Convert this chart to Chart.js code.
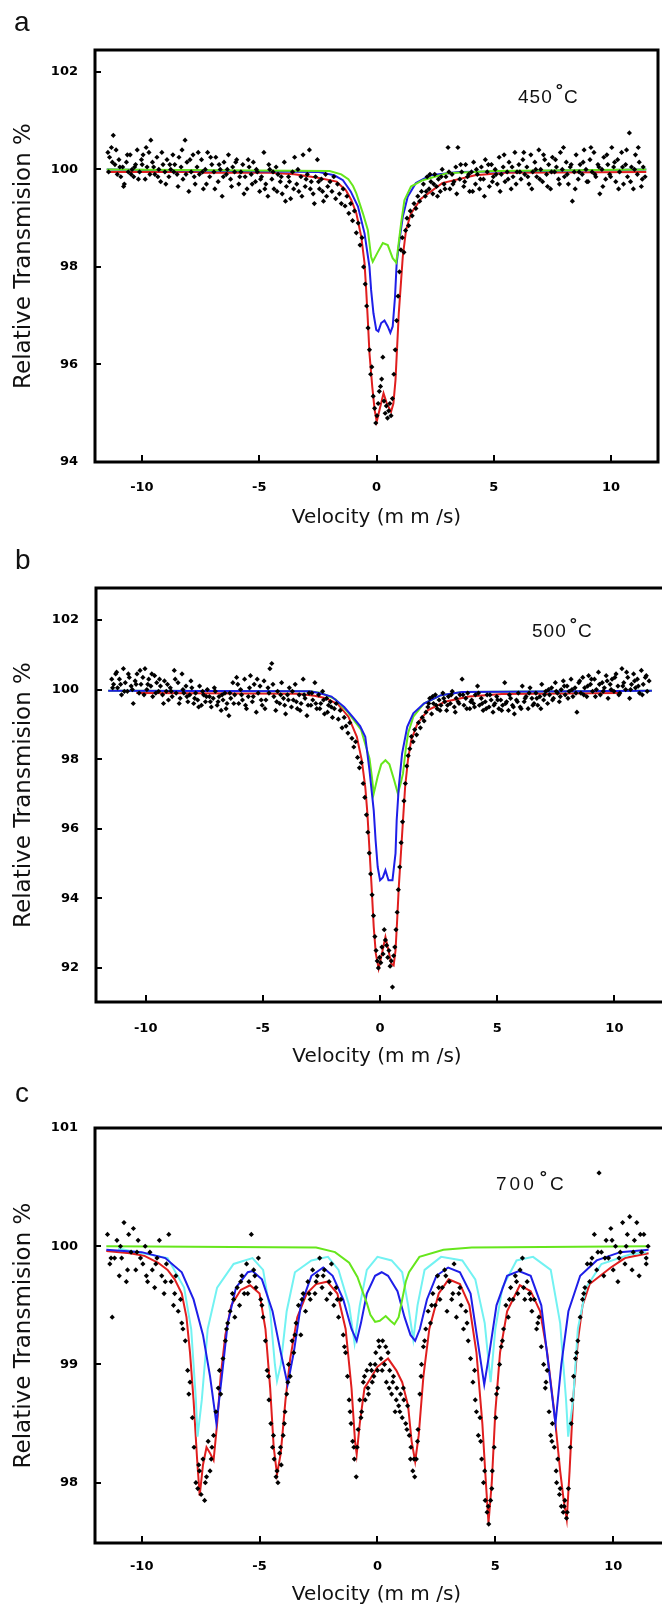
<!DOCTYPE html>
<html lang="en">
<head>
<meta charset="UTF-8">
<title>Mössbauer spectra 450 / 500 / 700 °C</title>
<script src="https://cdn.jsdelivr.net/npm/chart.js"></script>
<style>
  body { margin: 0; width: 662px; height: 1605px; background: #fff; position: relative; overflow: hidden;
         font-family: "Liberation Sans", Arial, sans-serif; color: #111; }
  canvas { position: absolute; left: 0; }
  .lbl { position: absolute; font-size: 28px; line-height: 28px; }
  .temp { position: absolute; font-size: 19px; line-height: 19px; letter-spacing: 1px; }
  .temp span { position: relative; top: -7px; font-size: 18px; font-weight: bold; margin-left: 3px; margin-right: 0; }
</style>
</head>
<body>
  <canvas id="chartA" width="662" height="540" style="top:0"></canvas>
  <canvas id="chartB" width="662" height="540" style="top:540px"></canvas>
  <canvas id="chartC" width="662" height="540" style="top:1075px"></canvas>

  <div class="lbl" style="left:14px;top:8px">a</div>
  <div class="lbl" style="left:15px;top:546px">b</div>
  <div class="lbl" style="left:15px;top:1079px">c</div>
  <div class="temp" style="left:518px;top:87px">450<span>°</span>C</div>
  <div class="temp" style="left:532px;top:621px">500<span>°</span>C</div>
  <div class="temp" style="left:496px;top:1174px;letter-spacing:3px">700<span>°</span>C</div>

<script>
// tick labels
const velTicks = [-10, -5, 0, 5, 10];
const transTicksA = [94, 96, 98, 100, 102];
const transTicksB = [92, 94, 96, 98, 100, 102];
const transTicksC = [98, 99, 100, 101];

// ---- a: 450 C ----
const scatterA = [
  [-11.45,100.35],[-11.38,100.25],[-11.3,100.45],[-11.22,100.7],[-11.15,100.1],[-11.05,99.9],[-10.98,100.2],[-10.9,99.85],[-10.82,100.05],[-10.75,99.7],
  [-10.66,100.15],[-10.58,99.95],[-10.5,100.3],[-10.42,100.0],[-10.35,99.85],[-10.27,100.1],[-10.2,100.4],[-10.1,99.95],[-10.02,100.2],[-9.95,100.3],
  [-9.86,99.8],[-9.78,100.05],[-9.7,100.35],[-9.62,100.6],[-9.55,100.15],[-9.45,99.9],[-9.36,100.25],[-9.28,100.0],[-9.2,99.75],[-9.1,100.1],
  [-9.02,99.95],[-8.93,100.2],[-8.85,99.85],[-8.77,100.0],[-8.68,100.3],[-8.6,100.1],[-8.5,99.9],[-8.42,100.25],[-8.33,100.05],[-8.25,99.8],
  [-8.16,100.6],[-8.08,100.15],[-8.0,99.55],[-7.9,99.95],[-7.82,100.3],[-7.73,99.7],[-7.65,100.05],[-7.55,99.9],[-7.46,100.2],[-7.38,99.6],
  [-7.3,100.0],[-7.2,100.35],[-7.11,99.85],[-7.02,100.1],[-6.93,99.95],[-6.85,100.25],[-6.75,99.75],[-6.66,100.0],[-6.58,99.45],[-6.5,100.15],
  [-6.4,99.9],[-6.31,100.3],[-6.22,99.8],[-6.13,100.05],[-6.05,99.95],[-5.96,100.2],[-5.87,99.7],[-5.78,99.95],[-5.7,100.1],[-5.6,99.85],
  [-5.52,99.6],[-5.43,100.05],[-5.34,99.9],[-5.25,100.15],[-5.16,99.75],[-5.08,99.95],[-4.98,99.55],[-4.9,99.85],[-4.8,100.35],[-4.72,99.7],
  [-4.63,99.45],[-4.55,100.0],[-4.46,99.8],[-4.37,99.6],[-4.28,100.05],[-4.2,99.9],[-4.1,99.75],[-4.02,99.5],[-3.93,100.15],[-3.84,99.65],
  [-3.75,99.85],[-3.66,99.4],[-3.58,99.95],[-3.49,100.25],[-3.4,99.7],[-3.31,99.55],[-3.22,99.85],[-3.13,100.3],[-3.04,99.65],[-2.95,99.9],
  [-2.86,100.4],[-2.78,99.75],[-2.7,99.5],[-2.6,99.85],[-2.52,100.2],[-2.43,99.6],[-2.35,99.8],[-2.26,99.35],[-2.17,99.9],[-2.08,99.65],
  [-1.98,99.75],[-1.9,99.55],[-1.82,99.85],[-1.74,99.4],[-1.66,99.7],[-1.58,99.5],[-1.5,99.3],[-1.42,99.6],[-1.34,99.25],[-1.26,99.45],
  [-1.18,99.1],[-1.1,99.3],[-1.02,98.95],[-0.94,99.15],[-0.86,98.7],[-0.78,98.9],[-0.7,98.45],[-0.62,98.6],[-0.55,98.0],[-0.48,97.65],
  [-0.42,97.2],[-0.36,96.75],[-0.3,96.3],[-0.25,95.8],[-0.2,95.95],[-0.14,95.35],[-0.08,95.1],[-0.03,94.8],[0.02,94.95],[0.07,95.2],
  [0.12,95.45],[0.17,95.55],[0.22,95.7],[0.27,96.15],[0.32,95.25],[0.37,95.0],[0.42,95.15],[0.47,94.9],[0.52,95.05],[0.57,95.2],
  [0.62,94.95],[0.68,95.3],[0.74,95.8],[0.8,96.3],[0.86,96.9],[0.92,97.4],[0.98,97.9],[1.04,98.35],[1.1,98.6],[1.17,98.3],
  [1.24,98.75],[1.3,99.0],[1.37,98.85],[1.44,99.15],[1.52,99.05],[1.6,99.3],[1.68,99.2],[1.76,99.45],[1.84,99.35],[1.92,99.55],
  [2.0,99.7],[2.08,99.45],[2.16,99.85],[2.24,99.6],[2.32,99.75],[2.4,99.5],[2.48,99.9],[2.56,99.65],[2.64,99.8],[2.72,99.55],
  [2.8,100.0],[2.88,99.7],[2.96,99.85],[3.05,100.45],[3.13,99.6],[3.22,99.9],[3.3,99.75],[3.38,100.05],[3.47,100.45],[3.55,99.8],
  [3.63,99.95],[3.72,99.65],[3.8,100.1],[3.88,99.85],[3.97,99.55],[4.05,99.95],[4.14,100.15],[4.22,99.7],[4.3,99.9],[4.39,99.6],
  [4.47,100.05],[4.56,99.8],[4.64,100.2],[4.72,99.95],[4.81,99.65],[4.9,100.1],[4.98,99.85],[5.06,100.0],[5.15,99.7],[5.23,100.25],
  [5.32,99.9],[5.4,100.05],[5.48,99.75],[5.57,99.95],[5.65,100.15],[5.74,99.6],[5.82,99.85],[5.9,100.35],[5.99,99.95],[6.07,100.1],
  [6.16,99.8],[6.24,100.2],[6.32,99.9],[6.41,100.05],[6.5,99.7],[6.58,100.3],[6.66,99.95],[6.75,100.15],[6.83,99.85],[6.92,100.4],
  [7.0,100.0],[7.08,99.75],[7.17,100.2],[7.25,99.9],[7.34,100.1],[7.42,99.6],[7.5,100.25],[7.59,99.95],[7.67,100.05],[7.76,99.8],
  [7.84,100.35],[7.92,100.0],[8.01,99.85],[8.09,100.15],[8.18,99.7],[8.26,100.05],[8.35,99.35],[8.43,99.95],[8.51,100.3],[8.6,99.8],
  [8.68,100.1],[8.77,99.9],[8.85,100.4],[8.93,100.0],[9.02,99.75],[9.1,100.2],[9.19,99.95],[9.27,100.35],[9.35,99.85],[9.44,100.1],
  [9.52,99.5],[9.61,100.0],[9.69,100.25],[9.77,99.8],[9.86,100.1],[9.94,99.9],[10.03,100.45],[10.11,100.05],[10.2,99.75],[10.28,100.2],
  [10.36,99.95],[10.45,100.35],[10.53,99.7],[10.62,100.1],[10.7,99.85],[10.78,100.75],[10.87,100.05],[10.95,99.6],[11.04,100.3],[11.12,99.9],
  [11.2,100.15],[11.29,99.65],[11.37,100.05],[11.45,99.85],
  [-11.42,99.95],[-11.26,100.15],[-11.1,100.4],[-10.94,100.05],[-10.78,99.65],[-10.62,100.3],[-10.46,99.9],[-10.31,100.05],[-10.15,99.8],[-9.99,100.1],
  [-9.82,100.45],[-9.66,99.9],[-9.5,100.05],[-9.32,99.85],[-9.15,100.35],[-8.98,99.7],[-8.81,100.1],[-8.64,99.95],[-8.46,99.65],[-8.29,100.4],
  [-8.12,99.9],[-7.95,100.2],[-7.77,99.85],[-7.6,100.35],[-7.42,99.95],[-7.25,99.7],[-7.07,100.25],[-6.89,99.6],[-6.71,100.1],[-6.53,99.85],
  [-6.36,100.0],[-6.18,99.65],[-6.0,100.15],[-5.83,99.85],[-5.65,99.5],[-5.47,100.2],[-5.3,99.7],[-5.12,100.0],[-4.94,99.8],[-4.76,99.6],
  [-4.59,100.1],[-4.41,99.95],[-4.24,99.55],[-4.06,99.85],[-3.88,99.35],[-3.71,99.75],[-3.53,99.6],[-3.35,100.0],[-3.18,99.45],[-3.0,99.8],
  [-2.82,99.6],[-2.65,99.3],[-2.47,99.75],[-2.3,99.55],[-2.13,99.45],
  [2.12,99.55],[2.28,99.9],[2.44,99.7],[2.6,99.45],[2.76,99.85],[2.92,99.6],[3.09,99.95],[3.26,99.7],[3.42,99.5],[3.59,100.1],
  [3.76,99.75],[3.93,99.9],[4.1,99.55],[4.26,100.0],[4.43,99.8],[4.6,99.45],[4.77,100.1],[4.94,99.75],[5.1,99.9],[5.27,99.55],
  [5.44,100.3],[5.61,99.8],[5.78,100.05],[5.95,99.7],[6.11,99.95],[6.28,100.35],[6.45,99.85],[6.62,99.6],[6.79,100.0],[6.96,99.8],
  [7.12,100.3],[7.29,99.65],[7.46,99.95],[7.63,100.2],[7.8,99.7],[7.97,100.45],[8.13,99.9],[8.3,100.1],[8.47,99.6],[8.64,99.95],
  [8.81,100.15],[8.97,99.75],[9.14,100.45],[9.31,99.9],[9.48,100.05],[9.65,99.65],[9.82,100.3],[9.98,99.85],[10.15,100.15],[10.32,99.6],
  [10.49,100.05],[10.66,100.4],[10.83,99.75],[11.0,100.0],[11.16,100.45],[11.33,99.8]
];
const redA = [
  [-11.5,99.95],[-7.5,99.95],[-7.4,99.93],[-4.5,99.93],[-3.5,99.9],[-2.5,99.83],[-1.7,99.75],[-1.3,99.57],[-1.07,99.37],[-0.86,99.1],
  [-0.65,98.62],[-0.51,98.08],[-0.44,97.53],[-0.37,96.91],[-0.3,96.23],[-0.18,95.54],[-0.08,95.07],[0.01,94.83],[0.13,95.07],[0.3,95.41],
  [0.44,95.2],[0.62,95.03],[0.72,95.2],[0.81,95.68],[0.88,96.37],[0.95,97.05],[1.05,97.73],[1.12,98.21],[1.26,98.76],[1.47,99.1],
  [1.9,99.4],[2.8,99.72],[4.2,99.88],[5.5,99.93],[11.5,99.95]
];
const blueA = [
  [-11.5,100],[-2.5,99.95],[-1.8,99.88],[-1.43,99.78],[-1.1,99.55],[-0.79,99.24],[-0.51,98.69],[-0.3,98.0],[-0.23,97.53],[-0.13,97.05],
  [-0.01,96.71],[0.08,96.68],[0.2,96.85],[0.34,96.9],[0.48,96.78],[0.59,96.65],[0.69,96.78],[0.79,97.39],[0.86,98.08],[0.98,98.55],
  [1.12,99.03],[1.33,99.44],[1.68,99.72],[2.3,99.88],[3.5,99.95],[11.5,100]
];
const greenA = [
  [-11.5,100],[-2.0,99.97],[-1.5,99.9],[-1.2,99.8],[-1.0,99.66],[-0.86,99.51],[-0.58,99.1],[-0.37,98.76],[-0.23,98.21],[-0.16,98.11],
  [0.06,98.31],[0.27,98.49],[0.48,98.45],[0.69,98.18],[0.84,98.09],[0.9,98.31],[1.05,98.9],[1.19,99.37],[1.47,99.65],[1.97,99.78],
  [3.0,99.92],[5.0,99.97],[11.5,100]
];

// ---- b: 500 C ----
const scatterB = [
  [-11.45,100.3],[-11.37,100.15],[-11.28,100.45],[-11.2,100.05],[-11.12,100.3],[-11.03,99.85],[-10.95,100.6],[-10.87,100.2],[-10.78,99.95],[-10.7,100.35],
  [-10.62,100.1],[-10.53,99.6],[-10.45,100.25],[-10.37,100.45],[-10.28,99.9],[-10.2,100.15],[-10.12,100.35],[-10.03,100.6],[-9.95,100.0],[-9.87,100.3],
  [-9.78,100.1],[-9.7,99.8],[-9.62,100.4],[-9.53,100.2],[-9.45,99.95],[-9.37,100.1],[-9.28,99.85],[-9.2,100.25],[-9.12,99.95],[-9.03,99.7],
  [-8.95,100.05],[-8.87,99.8],[-8.78,100.55],[-8.7,99.9],[-8.62,100.2],[-8.53,99.75],[-8.45,100.45],[-8.37,99.9],[-8.28,100.1],[-8.2,99.65],
  [-8.12,99.85],[-8.03,100.05],[-7.95,99.6],[-7.87,99.9],[-7.78,99.7],[-7.7,100.1],[-7.62,99.55],[-7.53,99.85],[-7.45,99.65],[-7.37,100.0],
  [-7.28,99.8],[-7.2,99.5],[-7.12,99.75],[-7.03,99.95],[-6.95,99.55],[-6.87,99.8],[-6.78,99.4],[-6.7,99.7],[-6.62,99.9],[-6.53,99.6],
  [-6.45,99.25],[-6.37,99.75],[-6.28,100.2],[-6.2,99.85],[-6.12,100.35],[-6.03,99.6],[-5.95,100.0],[-5.87,99.7],[-5.78,100.3],[-5.7,99.45],
  [-5.62,99.8],[-5.53,100.4],[-5.45,99.65],[-5.37,100.15],[-5.28,99.35],[-5.2,99.9],[-5.12,100.1],[-5.03,99.55],[-4.95,100.25],[-4.87,99.7],
  [-4.78,100.05],[-4.7,100.6],[-4.62,100.75],[-4.53,99.8],[-4.45,99.4],[-4.37,99.95],[-4.28,99.6],[-4.2,100.2],[-4.12,99.75],[-4.03,99.3],
  [-3.95,99.85],[-3.87,100.05],[-3.78,99.5],[-3.7,99.7],[-3.62,100.15],[-3.53,99.45],[-3.45,99.85],[-3.37,99.6],[-3.28,100.3],[-3.2,99.75],
  [-3.12,99.25],[-3.03,99.9],[-2.95,99.55],[-2.87,99.7],[-2.78,100.2],[-2.7,99.45],[-2.62,99.85],[-2.53,99.6],[-2.45,99.95],[-2.37,99.3],
  [-2.28,99.75],[-2.2,99.55],[-2.12,99.65],[-2.03,99.2],
  [-1.95,99.45],[-1.87,99.6],[-1.78,99.15],[-1.7,99.4],[-1.62,98.9],[-1.53,99.2],[-1.45,98.95],[-1.37,98.75],[-1.29,99.05],[-1.2,98.6],
  [-1.12,98.35],[-1.04,98.5],[-0.96,98.05],[-0.88,97.75],[-0.8,97.9],[-0.72,97.3],[-0.65,96.9],[-0.58,96.4],[-0.52,95.9],[-0.46,95.3],
  [-0.4,94.7],[-0.34,94.1],[-0.28,93.5],[-0.22,92.9],[-0.17,92.5],[-0.12,92.2],[-0.07,92.0],[-0.02,92.3],[0.03,92.15],[0.08,92.6],
  [0.13,92.4],[0.18,93.1],[0.23,92.8],[0.28,92.65],[0.33,92.3],[0.38,92.5],[0.43,92.05],[0.48,92.2],[0.53,91.45],[0.58,92.35],
  [0.63,92.6],[0.68,93.1],[0.73,93.6],[0.78,94.25],[0.84,94.9],[0.9,95.6],[0.96,96.2],[1.02,96.8],[1.08,97.3],[1.14,97.8],
  [1.2,98.1],[1.27,98.3],[1.34,98.65],[1.41,98.5],[1.48,98.85],[1.56,98.7],[1.64,99.05],[1.72,98.9],[1.8,99.2],[1.88,99.1],[1.96,99.35],
  [2.04,99.5],[2.12,99.75],[2.2,99.3],[2.28,99.6],[2.36,99.85],[2.44,99.45],[2.52,99.7],[2.6,99.55],[2.68,99.9],[2.76,99.65],
  [2.84,99.4],[2.92,99.8],[3.0,99.6],[3.08,99.95],[3.17,99.5],[3.25,99.75],[3.33,99.65],[3.41,99.85],[3.5,100.3],[3.58,99.55],
  [3.66,99.75],[3.74,99.9],[3.83,99.45],[3.91,99.7],[3.99,99.6],[4.07,99.85],[4.16,100.1],[4.24,99.55],[4.32,99.75],[4.4,99.4],
  [4.49,99.65],[4.57,99.85],[4.65,99.5],[4.74,99.7],[4.82,99.35],[4.9,99.6],[4.98,99.8],[5.07,99.45],[5.15,99.7],[5.23,99.55],
  [5.32,100.2],[5.4,99.65],[5.48,99.4],[5.57,99.75],[5.65,99.55],[5.73,99.3],[5.82,99.7],[5.9,99.9],[5.98,99.5],[6.07,100.1],
  [6.15,99.65],[6.23,99.8],[6.32,99.45],[6.4,100.05],[6.48,99.75],[6.57,99.6],[6.65,99.9],[6.73,99.55],[6.82,99.8],[6.9,100.15],
  [6.98,99.7],[7.07,99.95],[7.15,99.6],[7.23,99.85],[7.32,100.05],[7.4,99.75],[7.48,100.2],[7.57,99.9],[7.65,99.65],[7.73,100.0],
  [7.82,100.25],[7.9,99.85],[7.98,100.1],[8.07,99.95],[8.15,100.3],[8.23,99.8],[8.32,100.05],[8.4,99.35],[8.48,100.2],[8.57,99.9],
  [8.65,100.35],[8.73,100.05],[8.82,99.8],[8.9,100.4],[8.98,100.15],[9.07,99.95],[9.15,100.3],[9.23,100.0],[9.32,100.5],[9.4,99.85],
  [9.48,100.2],[9.57,100.05],[9.65,100.4],[9.73,99.75],[9.82,100.15],[9.9,100.3],[9.98,99.95],[10.07,100.45],[10.15,100.1],[10.23,99.9],
  [10.32,100.6],[10.4,100.2],[10.48,100.0],[10.57,100.35],[10.65,99.75],[10.73,100.15],[10.82,100.45],[10.9,100.05],[10.98,100.3],[11.07,99.9],
  [11.15,100.55],[11.23,100.15],[11.32,100.35],[11.4,99.95],[11.48,100.25],
  [-11.41,100.05],[-11.24,100.5],[-11.07,100.15],[-10.91,99.95],[-10.74,100.45],[-10.57,100.0],[-10.41,100.15],[-10.24,100.55],[-10.07,99.85],[-9.91,100.15],
  [-9.74,100.45],[-9.57,99.9],[-9.41,100.3],[-9.24,99.6],[-9.07,100.15],[-8.91,99.95],[-8.74,100.3],[-8.57,99.6],[-8.41,100.0],[-8.24,99.8],
  [-8.07,100.25],[-7.91,99.75],[-7.74,99.5],[-7.57,99.95],[-7.41,99.8],[-7.24,99.65],[-7.07,100.05],[-6.91,99.65],[-6.74,99.85],[-6.57,99.45],
  [-6.41,99.9],[-6.24,99.6],[-6.07,100.15],[-5.91,99.85],[-5.74,99.55],[-5.57,100.05],[-5.41,99.8],[-5.24,100.3],[-5.07,99.7],[-4.91,99.45],
  [-4.74,99.9],[-4.57,100.15],[-4.41,99.65],[-4.24,99.85],[-4.07,99.55],[-3.91,99.7],[-3.74,99.95],[-3.57,99.65],[-3.41,99.4],[-3.24,99.85],
  [-3.07,99.55],[-2.91,99.9],[-2.74,99.6],[-2.57,99.45],[-2.41,99.7],[-2.24,99.35],[-2.08,99.5],
  [2.08,99.6],[2.24,99.8],[2.4,99.55],[2.56,99.4],[2.72,99.75],[2.88,99.55],[3.04,99.85],[3.21,99.35],[3.37,99.6],[3.54,99.85],
  [3.7,99.45],[3.87,99.65],[4.03,99.5],[4.2,99.9],[4.36,99.6],[4.53,99.45],[4.69,99.85],[4.86,99.55],[5.02,99.7],[5.19,99.4],
  [5.36,99.6],[5.52,99.85],[5.69,99.5],[5.86,99.65],[6.02,99.45],[6.19,99.75],[6.36,99.9],[6.52,99.55],[6.69,99.75],[6.86,99.45],
  [7.02,99.85],[7.19,100.0],[7.36,99.7],[7.52,99.95],[7.69,99.8],[7.86,100.1],[8.02,99.75],[8.19,100.0],[8.36,99.9],[8.52,100.25],
  [8.69,99.85],[8.86,100.1],[9.02,100.3],[9.19,99.8],[9.36,100.15],[9.52,99.95],[9.69,100.25],[9.86,100.0],[10.02,100.35],[10.19,99.85],
  [10.36,100.1],[10.52,100.5],[10.69,100.0],[10.86,100.25],[11.02,100.1],[11.19,99.85],[11.36,100.4]
];
const redB = [
  [-10.4,99.9],[-3.5,99.88],[-2.8,99.82],[-2.3,99.75],[-1.8,99.58],[-1.35,99.22],[-0.99,98.64],[-0.78,97.97],[-0.63,97.2],[-0.54,96.44],
  [-0.45,95.38],[-0.36,94.33],[-0.27,93.18],[-0.18,92.41],[-0.06,91.98],[0.08,92.41],[0.23,92.89],[0.36,92.5],[0.48,92.12],[0.58,92.07],
  [0.66,92.5],[0.73,93.37],[0.8,94.33],[0.89,95.29],[0.98,96.25],[1.07,97.2],[1.19,97.97],[1.33,98.55],[1.6,99.03],[2.05,99.41],
  [2.77,99.65],[3.8,99.8],[5.2,99.87],[10.3,99.9]
];
const blueB = [
  [-11.6,99.97],[-3.0,99.95],[-2.6,99.9],[-2.07,99.8],[-1.53,99.5],[-1.15,99.2],[-0.85,98.95],[-0.63,98.64],[-0.45,97.68],[-0.27,96.53],
  [-0.19,95.67],[-0.1,94.9],[0.0,94.52],[0.12,94.6],[0.23,94.81],[0.36,94.52],[0.53,94.52],[0.66,95.29],[0.71,96.25],[0.8,97.2],
  [0.94,98.16],[1.16,98.93],[1.42,99.32],[1.87,99.6],[2.6,99.84],[3.5,99.93],[11.6,99.97]
];
const greenB = [
  [-11.6,99.97],[-3.0,99.95],[-2.5,99.9],[-1.9,99.72],[-1.36,99.34],[-0.81,98.85],[-0.45,98.02],[-0.35,97.5],[-0.27,97.01],[-0.1,97.5],
  [0.05,97.85],[0.23,97.97],[0.4,97.85],[0.6,97.4],[0.76,97.01],[0.88,97.3],[0.98,97.59],[1.1,98.3],[1.2,98.75],[1.42,99.22],
  [1.87,99.6],[2.6,99.84],[3.5,99.93],[11.6,99.97]
];

// ---- c: 700 C ----
const scatterC = [
  [-11.45,100.1],[-11.35,99.85],[-11.25,99.4],[-11.15,99.9],[-11.05,100.05],[-10.95,99.75],[-10.85,99.9],[-10.75,100.2],[-10.65,99.7],[-10.55,100.1],
  [-10.45,99.95],[-10.35,100.15],[-10.25,99.8],[-10.15,100.05],[-10.05,99.9],[-9.95,99.85],[-9.85,100.0],[-9.75,99.7],[-9.65,99.95],[-9.55,99.8],
  [-9.45,99.65],[-9.35,99.9],[-9.25,100.05],[-9.15,99.75],[-9.05,99.6],[-8.95,99.85],[-8.85,100.1],[-8.75,99.7],[-8.65,99.5],[-8.55,99.75],
  [-8.45,99.45],[-8.35,99.55],[-8.25,99.3],[-8.15,99.2],[-8.05,98.95],[-7.95,98.85],[-7.85,98.55],[-7.78,98.3],[-7.7,98.0],[-7.62,97.95],
  [-7.55,98.1],[-7.48,97.9],[-7.4,98.2],[-7.33,97.85],[-7.25,98.05],[-7.18,98.35],[-7.1,98.1],[-7.02,98.3],[-6.95,98.4],[-6.85,98.6],
  [-6.75,98.8],[-6.65,98.75],[-6.55,99.05],[-6.45,99.2],[-6.35,99.35],[-6.25,99.45],[-6.15,99.6],[-6.05,99.4],[-5.95,99.65],[-5.85,99.5],
  [-5.75,99.75],[-5.65,99.6],[-5.55,99.85],[-5.45,99.7],[-5.35,100.1],[-5.25,99.8],[-5.15,99.65],[-5.05,99.9],[-4.95,99.55],[-4.85,99.4],
  [-4.75,99.2],[-4.68,98.95],[-4.6,98.7],[-4.52,98.5],[-4.45,98.3],[-4.38,98.2],[-4.3,98.05],[-4.22,98.0],[-4.15,98.25],[-4.08,98.15],
  [-4.0,98.4],[-3.92,98.6],[-3.85,98.75],[-3.77,99.0],[-3.7,98.9],[-3.62,99.2],[-3.55,99.1],[-3.45,99.35],[-3.35,99.5],[-3.25,99.25],
  [-3.15,99.6],[-3.05,99.45],[-2.95,99.7],[-2.85,99.55],[-2.75,99.8],[-2.65,99.6],[-2.55,99.75],[-2.45,99.9],[-2.35,99.65],[-2.25,99.8],
  [-2.15,99.55],[-2.05,99.7],[-1.95,99.85],[-1.85,99.5],[-1.75,99.65],[-1.65,99.4],[-1.55,99.55],[-1.45,99.25],[-1.35,99.1],[-1.27,98.9],
  [-1.2,98.7],[-1.12,98.5],[-1.05,98.35],[-0.98,98.2],[-0.9,98.05],[-0.82,98.45],[-0.75,98.7],[-0.67,98.6],[-0.6,98.85],[-0.52,98.7],
  [-0.45,98.95],[-0.38,98.75],[-0.3,99.0],[-0.22,98.85],[-0.15,98.9],[-0.07,99.1],[0.0,98.95],[0.08,99.15],[0.15,99.05],[0.22,99.2],
  [0.3,99.0],[0.38,98.85],[0.45,99.1],[0.52,98.95],[0.6,98.75],[0.68,98.9],[0.75,98.6],[0.82,98.8],[0.9,98.65],[0.98,98.75],
  [1.05,98.55],[1.12,98.7],[1.2,98.5],[1.28,98.65],[1.35,98.4],[1.42,98.3],[1.5,98.1],[1.58,98.05],[1.65,98.2],[1.72,98.45],
  [1.8,98.75],[1.87,99.0],[1.95,99.15],[2.05,99.3],[2.15,99.45],[2.25,99.35],[2.35,99.6],[2.45,99.5],[2.55,99.75],[2.65,99.55],
  [2.75,99.65],[2.85,99.8],[2.95,99.45],[3.05,99.7],[3.15,99.55],[3.25,99.85],[3.35,99.4],[3.45,99.6],[3.55,99.5],[3.65,99.3],
  [3.75,99.45],[3.85,99.2],[3.95,99.05],[4.05,98.85],[4.12,98.95],[4.2,98.6],[4.28,98.4],[4.35,98.55],[4.42,98.2],[4.5,98.0],
  [4.57,97.85],[4.65,97.75],[4.72,97.65],[4.8,97.85],[4.87,98.1],[4.95,98.3],[5.02,98.55],[5.1,98.8],[5.18,99.0],[5.25,99.15],
  [5.35,99.3],[5.45,99.5],[5.55,99.4],[5.65,99.65],[5.75,99.55],[5.85,99.75],[5.95,99.6],[6.05,99.8],[6.15,99.9],[6.25,99.55],
  [6.35,99.7],[6.45,99.6],[6.55,99.45],[6.65,99.55],[6.75,99.3],[6.85,99.4],[6.95,99.15],[7.05,99.0],[7.12,98.8],[7.2,98.95],
  [7.28,98.6],[7.35,98.4],[7.42,98.5],[7.5,98.3],[7.58,98.1],[7.65,98.2],[7.72,97.9],[7.8,97.8],[7.88,97.75],[7.95,97.85],
  [8.02,97.7],[8.1,97.95],[8.18,98.3],[8.25,98.7],[8.32,98.9],[8.4,99.05],[8.5,99.2],[8.6,99.4],[8.7,99.55],[8.8,99.65],
  [8.9,99.85],[9.0,99.7],[9.1,99.9],[9.2,100.1],[9.3,99.8],[9.4,100.62],[9.5,99.95],[9.6,99.75],[9.7,100.05],[9.8,99.9],
  [9.9,100.15],[10.0,99.8],[10.1,100.0],[10.2,99.7],[10.3,99.95],[10.4,100.2],[10.5,99.85],[10.6,100.1],[10.7,100.25],[10.8,99.8],
  [10.9,100.05],[11.0,100.2],[11.1,99.75],[11.2,99.95],[11.3,100.1],[11.4,99.85],[11.48,100.0],
  [-11.3,99.9],[-10.9,100.0],[-10.6,99.8],[-10.2,99.95],[-9.8,99.75],[-9.4,99.85],[-9.0,99.7],[-8.6,99.6],[-8.3,99.35],[-8.0,98.75],
  [-7.58,98.15],[-7.3,98.0],[-7.05,98.2],[-6.7,98.95],[-6.4,99.3],[-6.1,99.55],[-5.8,99.7],[-5.5,99.6],[-5.2,99.75],[-4.9,99.5],
  [-4.62,98.9],[-4.41,98.4],[-4.26,98.1],[-4.11,98.3],[-3.95,98.5],[-3.8,98.85],[-3.5,99.25],[-3.2,99.55],[-2.9,99.6],[-2.6,99.7],
  [-2.3,99.75],[-2.0,99.6],[-1.7,99.55],[-1.4,99.15],[-1.16,98.6],[-1.0,98.3],[-0.86,98.3],[-0.7,98.55],[-0.55,98.9],[-0.4,98.8],
  [-0.25,98.95],[-0.1,99.0],[0.05,99.2],[0.2,98.95],[0.35,99.15],[0.5,98.8],[0.65,98.85],[0.8,98.7],[0.95,98.6],[1.1,98.8],
  [1.25,98.45],[1.4,98.2],[1.55,98.2],[1.7,98.35],[1.85,98.9],[2.0,99.2],[2.3,99.5],[2.6,99.65],[2.9,99.75],[3.2,99.6],
  [3.5,99.65],[3.8,99.35],[4.15,98.7],[4.38,98.35],[4.55,98.1],[4.7,97.8],[4.85,97.95],[5.05,98.75],[5.3,99.2],[5.6,99.55],
  [5.9,99.7],[6.2,99.65],[6.5,99.55],[6.8,99.35],[7.15,98.85],[7.4,98.35],[7.6,98.0],[7.75,97.95],[7.92,97.8],[8.05,97.75],
  [8.22,98.5],[8.45,99.1],[8.75,99.6],[9.05,99.85],[9.35,99.95],[9.65,99.9],[9.95,100.05],[10.25,99.9],[10.55,100.0],[10.85,99.95],
  [11.15,100.1],[11.4,99.9]
];
const redC = [
  [-11.5,99.96],[-10.5,99.94],[-9.9,99.92],[-9.3,99.86],[-8.9,99.8],[-8.6,99.72],[-8.3,99.6],[-8.1,99.4],[-7.95,99.1],[-7.8,98.7],
  [-7.65,98.2],[-7.54,97.89],[-7.4,98.15],[-7.25,98.3],[-7.1,98.25],[-6.95,98.19],[-6.8,98.5],[-6.65,98.9],[-6.45,99.25],[-6.2,99.5],
  [-5.8,99.63],[-5.4,99.67],[-5.0,99.6],[-4.75,99.3],[-4.55,98.8],[-4.4,98.3],[-4.26,98.07],[-4.1,98.25],[-3.9,98.7],[-3.7,99.05],
  [-3.4,99.4],[-3.0,99.6],[-2.6,99.68],[-2.13,99.7],[-1.7,99.6],[-1.35,99.3],[-1.1,98.8],[-0.95,98.35],[-0.88,98.24],[-0.75,98.5],
  [-0.55,98.8],[-0.3,98.88],[0.0,98.98],[0.45,99.05],[0.8,98.95],[1.05,98.85],[1.3,98.65],[1.45,98.35],[1.6,98.18],[1.75,98.4],
  [1.95,98.9],[2.2,99.3],[2.6,99.6],[3.02,99.72],[3.5,99.68],[3.9,99.5],[4.2,99.1],[4.45,98.5],[4.6,98.0],[4.71,97.66],
  [4.85,98.0],[5.0,98.6],[5.2,99.1],[5.5,99.45],[6.04,99.67],[6.5,99.62],[6.9,99.45],[7.2,99.1],[7.5,98.6],[7.75,98.1],
  [7.9,97.85],[8.03,97.69],[8.15,98.1],[8.3,98.7],[8.5,99.2],[8.7,99.5],[9.0,99.68],[9.9,99.82],[10.5,99.9],[11.5,99.94]
];
const blueC = [
  [-11.5,99.97],[-10.0,99.95],[-9.0,99.9],[-8.3,99.78],[-7.8,99.55],[-7.4,99.25],[-7.1,98.9],[-6.83,98.5],[-6.6,98.9],[-6.35,99.35],
  [-6.0,99.65],[-5.5,99.78],[-5.3,99.79],[-4.9,99.72],[-4.45,99.45],[-4.1,99.1],[-3.81,98.83],[-3.55,99.1],[-3.25,99.5],[-2.8,99.75],
  [-2.3,99.82],[-1.9,99.75],[-1.45,99.55],[-1.1,99.3],[-0.88,99.2],[-0.7,99.35],[-0.45,99.6],[-0.1,99.75],[0.18,99.78],[0.45,99.75],
  [0.85,99.62],[1.15,99.4],[1.4,99.25],[1.6,99.2],[1.8,99.3],[2.1,99.55],[2.5,99.75],[3.0,99.82],[3.5,99.78],[3.95,99.6],
  [4.25,99.2],[4.53,98.83],[4.75,99.1],[5.05,99.5],[5.5,99.75],[6.0,99.79],[6.5,99.75],[6.95,99.5],[7.25,99.0],[7.55,98.5],
  [7.8,99.0],[8.1,99.45],[8.6,99.75],[9.3,99.88],[10.3,99.95],[11.5,99.97]
];
const cyanC = [
  [-11.0,99.98],[-8.9,99.9],[-8.2,99.65],[-7.9,99.3],[-7.7,98.7],[-7.63,98.39],[-7.45,98.7],[-7.2,99.3],[-6.8,99.65],[-6.1,99.85],
  [-5.3,99.9],[-4.85,99.8],[-4.55,99.45],[-4.35,99.0],[-4.26,98.86],[-4.1,99.0],[-3.85,99.45],[-3.5,99.78],[-2.8,99.88],[-2.1,99.91],
  [-1.65,99.8],[-1.2,99.5],[-0.97,99.18],[-0.75,99.5],[-0.45,99.8],[0.0,99.91],[0.6,99.88],[1.05,99.78],[1.3,99.5],[1.52,99.21],
  [1.7,99.5],[2.0,99.8],[2.7,99.91],[3.6,99.88],[4.15,99.72],[4.55,99.35],[4.8,98.85],[5.0,99.3],[5.3,99.65],[5.9,99.88],
  [6.6,99.91],[7.35,99.8],[7.75,99.35],[8.0,98.7],[8.09,98.39],[8.3,98.7],[8.5,99.3],[8.85,99.65],[9.5,99.85],[10.7,99.93],[11.4,99.95]
];
const greenC = [
  [-11.5,100],[-2.6,99.99],[-1.8,99.95],[-1.2,99.86],[-0.85,99.74],[-0.6,99.6],[-0.45,99.52],[-0.3,99.42],[-0.1,99.36],[0.1,99.37],
  [0.35,99.41],[0.55,99.37],[0.72,99.34],[0.9,99.4],[1.05,99.55],[1.2,99.7],[1.34,99.78],[1.78,99.91],[2.8,99.97],[4.0,99.99],[11.5,100]
];

const RED = '#e01e1e', BLUE = '#1e1ee8', GREEN = '#66e61c', CYAN = '#72f2f2';

// box round the plot + short inward tick marks
const framePlugin = {
  id: 'frame',
  afterDatasetsDraw(chart, args, opts) {
    const { ctx, chartArea: a, scales: { x, y } } = chart;
    ctx.save();
    ctx.strokeStyle = '#000';
    ctx.lineWidth = 2;
    ctx.beginPath();
    x.ticks.forEach(t => {
      const px = Math.round(x.getPixelForValue(t.value));
      ctx.moveTo(px, a.bottom); ctx.lineTo(px, a.bottom - 7);
    });
    y.ticks.forEach(t => {
      const py = Math.round(y.getPixelForValue(t.value));
      ctx.moveTo(a.left, py); ctx.lineTo(a.left + 6, py);
    });
    ctx.stroke();
    ctx.lineWidth = 3;
    ctx.beginPath();
    if (opts.closed) {
      ctx.rect(a.left, a.top, a.right - a.left, a.bottom - a.top);
    } else {
      ctx.moveTo(chart.width + 2, a.top);
      ctx.lineTo(a.left, a.top);
      ctx.lineTo(a.left, a.bottom);
      ctx.lineTo(chart.width + 2, a.bottom);
    }
    ctx.stroke();
    ctx.restore();
  }
};

function fitLine(data, color, order) {
  return { data, showLine: true, borderColor: color, borderWidth: 2, pointRadius: 0, tension: 0, order };
}
function points(data) {
  return { data, showLine: false, pointStyle: 'rectRot', pointRadius: 2.6, backgroundColor: '#000',
           borderWidth: 0, order: 0 };
}

function makePanel(id, p) {
  const tickFont = { family: 'DejaVu Sans', size: 13, weight: 'bold' };
  return new Chart(document.getElementById(id), {
    type: 'scatter',
    data: { datasets: p.datasets },
    options: {
      responsive: false,
      animation: false,
      layout: { padding: { top: p.top, right: p.right, left: 0, bottom: 0 } },
      plugins: { legend: { display: false }, tooltip: { enabled: false }, frame: { closed: p.closed } },
      scales: {
        x: {
          type: 'linear', min: p.xMin, max: p.xMax,
          afterBuildTicks: s => { s.ticks = velTicks.map(v => ({ value: v })); },
          afterFit: s => { s.height = p.xHeight; },
          grid: { display: false, drawTicks: false },
          border: { display: false },
          ticks: { color: '#000', font: tickFont, padding: p.xPad },
          title: { display: true, text: 'Velocity (m m /s)', color: '#111',
                   font: { family: 'DejaVu Sans', size: 20 }, padding: { top: 0, bottom: p.titlePad } }
        },
        y: {
          type: 'linear', min: p.yMin, max: p.yMax,
          afterBuildTicks: s => { s.ticks = p.yTicks.map(v => ({ value: v })); },
          afterFit: s => { s.width = p.left; },
          grid: { display: false, drawTicks: false },
          border: { display: false },
          ticks: { color: '#000', font: tickFont, padding: 17 },
          title: { display: true, text: 'Relative Transmision %', color: '#111',
                   font: { family: 'DejaVu Sans', size: 23 }, padding: { top: 10, bottom: 0 } }
        }
      }
    },
    plugins: [framePlugin]
  });
}

makePanel('chartA', {
  top: 50, right: 2, left: 95, xHeight: 78, xPad: 18, titlePad: 10, closed: true,
  xMin: -12, xMax: 12, yMin: 94, yMax: 102.45, yTicks: transTicksA,
  datasets: [points(scatterA), fitLine(greenA, GREEN, 1), fitLine(blueA, BLUE, 2), fitLine(redA, RED, 3)]
});
makePanel('chartB', {
  top: 48, right: 0, left: 96, xHeight: 78, xPad: 19, titlePad: 11, closed: false,
  xMin: -12.12, xMax: 11.86, yMin: 91.02, yMax: 102.92, yTicks: transTicksB,
  datasets: [points(scatterB), fitLine(blueB, BLUE, 1), fitLine(greenB, GREEN, 2), fitLine(redB, RED, 3)]
});
makePanel('chartC', {
  top: 53, right: 0, left: 95, xHeight: 72, xPad: 16, titlePad: 8, closed: false,
  xMin: -11.98, xMax: 11.9, yMin: 97.49, yMax: 101.0, yTicks: transTicksC,
  datasets: [points(scatterC), fitLine(greenC, GREEN, 1), fitLine(blueC, BLUE, 2), fitLine(cyanC, CYAN, 3), fitLine(redC, RED, 4)]
});
</script>
</body>
</html>
